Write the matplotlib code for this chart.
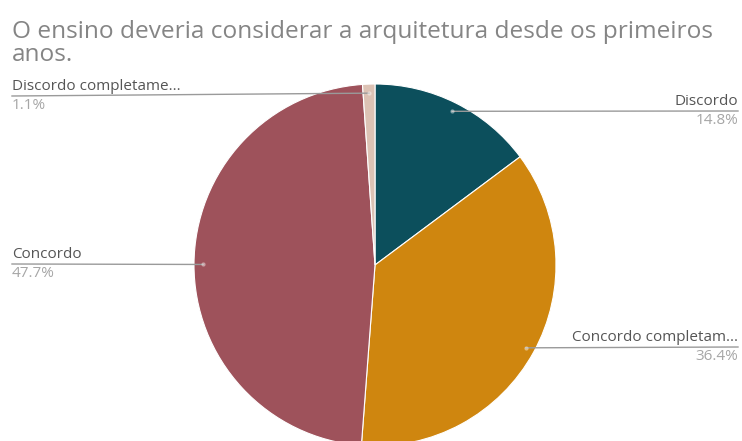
import numpy as np
import matplotlib.pyplot as plt

W, H = 742, 441

title = 'O ensino deveria considerar a arquitetura desde os primeiros\nanos.'
labels = ['Discordo', 'Concordo completam...', 'Concordo', 'Discordo completame...']
shares = [14.8, 36.4, 47.7, 1.1]
colors = ['#0c4f5c', '#cf860f', '#9e525b', '#dcc2b4']

# where each callout sits: side of the chart and height of its leader line (px from top)
sides = ['right', 'right', 'left', 'left']
line_y = [111, 347, 264, 96]

cx, cy, R = 375, 265, 181

plt.rcParams['font.family'] = ['Open Sans', 'DejaVu Sans']

fig = plt.figure(figsize=(W / 100, H / 100), dpi=100)
ax = fig.add_axes([0, 0, 1, 1])
wedges, _ = ax.pie(shares, colors=colors, startangle=90, counterclock=False,
                   center=(cx, H - cy), radius=R,
                   wedgeprops=dict(edgecolor='white', linewidth=0.8))
ax.set_xlim(0, W)
ax.set_ylim(0, H)
ax.set_aspect('equal')
ax.axis('off')

for w, lab, val, side, ly in zip(wedges, labels, shares, sides, line_y):
    mid = np.deg2rad((w.theta1 + w.theta2) / 2)
    dx = cx + 0.95 * R * np.cos(mid)
    dy = (H - cy) + 0.95 * R * np.sin(mid)
    x_end = W - 4 if side == 'right' else 12
    ha = 'right' if side == 'right' else 'left'
    y_end = H - ly
    ax.plot([dx, x_end], [dy, y_end], color='#9a9a9a', lw=1, zorder=3)
    ax.plot(dx, dy, 'o', ms=3, color='white', alpha=0.45, mec='none', zorder=4)
    ax.text(x_end, y_end + 2, lab, ha=ha, va='bottom', fontsize=11, color='#555555')
    ax.text(x_end, y_end - 2, f'{val:.1f}%', ha=ha, va='top', fontsize=11, color='#a6a6a6')

fig.text(12 / W, 1 - 20 / H, title, ha='left', va='top', fontsize=17.6, color='#858585',
         linespacing=0.93)

fig.savefig('out.png', dpi=100)
